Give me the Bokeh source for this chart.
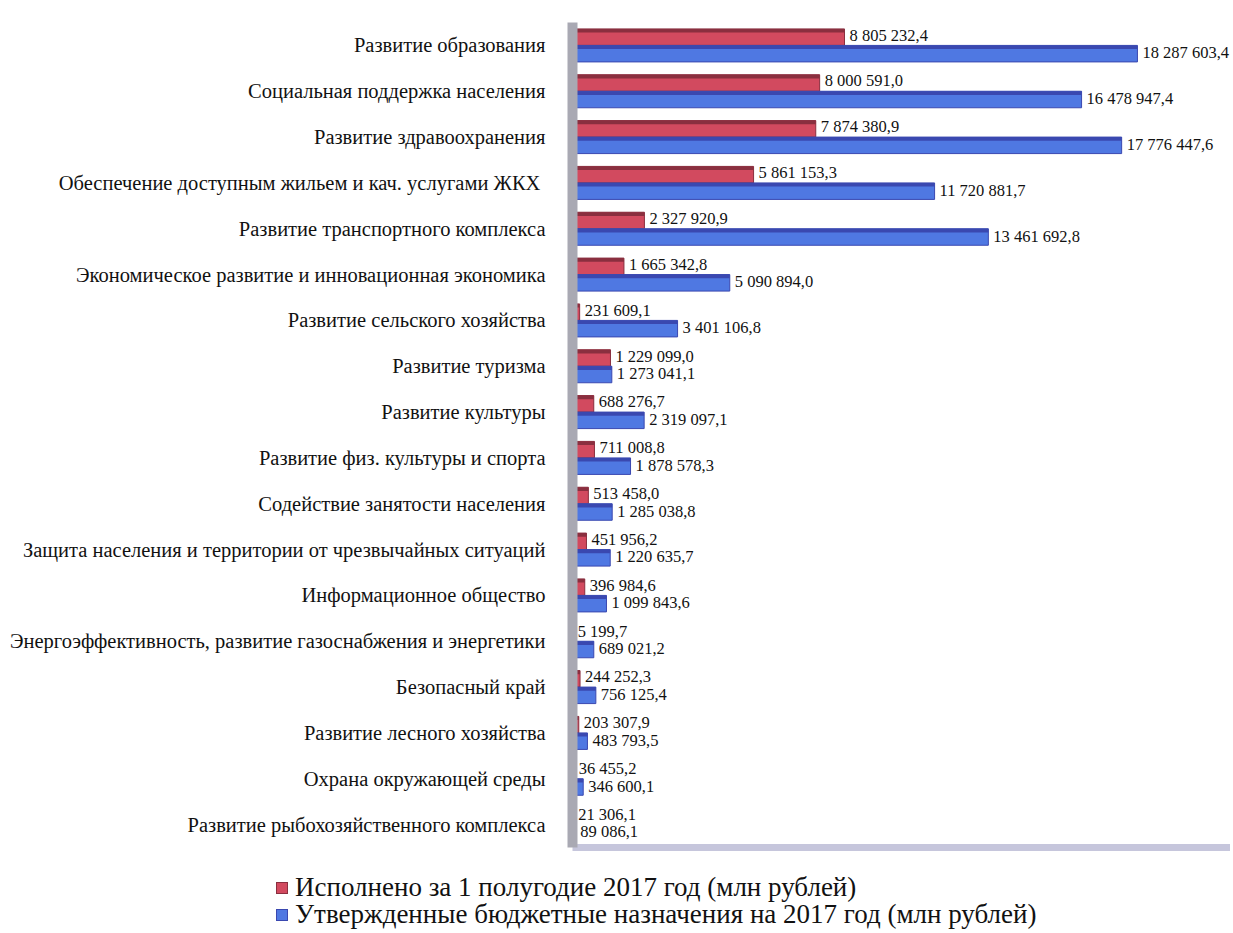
from bokeh.plotting import figure
from bokeh.layouts import column
from bokeh.models import ColumnDataSource, FactorRange, Range1d, Div
from bokeh.transform import dodge
from bokeh.core.properties import value
from bokeh.embed import file_html
from bokeh.resources import INLINE

categories = [
    "Развитие образования",
    "Социальная поддержка населения",
    "Развитие здравоохранения",
    "Обеспечение доступным жильем  и кач. услугами ЖКХ",
    "Развитие транспортного комплекса",
    "Экономическое развитие и инновационная экономика",
    "Развитие сельского хозяйства",
    "Развитие туризма",
    "Развитие культуры",
    "Развитие физ. культуры и спорта",
    "Содействие занятости населения",
    "Защита населения и территории от чрезвычайных ситуаций",
    "Информационное общество",
    "Энергоэффективность, развитие газоснабжения и энергетики",
    "Безопасный край",
    "Развитие лесного хозяйства",
    "Охрана окружающей среды",
    "Развитие рыбохозяйственного комплекса",
]
executed = [8805232.4, 8000591.0, 7874380.9, 5861153.3, 2327920.9, 1665342.8,
            231609.1, 1229099.0, 688276.7, 711008.8, 513458.0, 451956.2,
            396984.6, 5199.7, 244252.3, 203307.9, 36455.2, 21306.1]
approved = [18287603.4, 16478947.4, 17776447.6, 11720881.7, 13461692.8, 5090894.0,
            3401106.8, 1273041.1, 2319097.1, 1878578.3, 1285038.8, 1220635.7,
            1099843.6, 689021.2, 756125.4, 483793.5, 346600.1, 89086.1]
series_names = ["Исполнено за 1 полугодие 2017 год (млн рублей)",
                "Утвержденные бюджетные назначения на 2017 год (млн рублей)"]


def fmt(v):
    return f"{v:,.1f}".replace(",", " ").replace(".", ",")


src = ColumnDataSource(dict(
    cat=categories, ex=executed, ap=approved,
    ex_lbl=[fmt(v) for v in executed], ap_lbl=[fmt(v) for v in approved],
))

FONT = "Liberation Serif"
W = 1230
H_MAIN, H_LEG = 863, 67

p = figure(width=W, height=H_MAIN, output_backend="svg", toolbar_location=None,
           y_range=FactorRange(factors=categories[::-1], range_padding=0),
           x_range=Range1d(0, 21.3e6),
           min_border_left=572, min_border_right=0, min_border_top=22,
           min_border_bottom=16)
p.outline_line_color = None
p.xgrid.visible = False
p.ygrid.visible = False
p.background_fill_color = "white"

RED, RED_D = "#d24a5f", "#8a2f3f"
BLUE, BLUE_D = "#4f78e2", "#3a48b0"
BH = 0.36

p.hbar(y=dodge("cat", BH / 2, range=p.y_range), right="ex", left=0, height=BH,
       source=src, fill_color=RED, line_color=RED_D, line_width=1)
p.hbar(y=dodge("cat", BH - 0.04, range=p.y_range), right="ex", left=0, height=0.08,
       source=src, fill_color=RED_D, line_color=None)
p.hbar(y=dodge("cat", -BH / 2, range=p.y_range), right="ap", left=0, height=BH,
       source=src, fill_color=BLUE, line_color=BLUE_D, line_width=1)
p.hbar(y=dodge("cat", -0.04, range=p.y_range), right="ap", left=0, height=0.08,
       source=src, fill_color=BLUE_D, line_color=None)

p.text(x="ex", y=dodge("cat", BH / 2, range=p.y_range), text="ex_lbl", source=src,
       x_offset=5, y_offset=-2, text_baseline="middle", text_align="left",
       text_font=value(FONT), text_font_size="16.5px", text_color="#111111")
p.text(x="ap", y=dodge("cat", -BH / 2, range=p.y_range), text="ap_lbl", source=src,
       x_offset=5, y_offset=-1, text_baseline="middle", text_align="left",
       text_font=value(FONT), text_font_size="16.5px", text_color="#111111")

p.yaxis.major_label_text_font = FONT
p.yaxis.major_label_text_font_size = "20.5px"
p.yaxis.major_label_text_color = "#111111"
p.yaxis.major_label_standoff = 21
p.yaxis.major_tick_line_color = None
p.yaxis.minor_tick_line_color = None
p.yaxis.axis_line_color = "#a9a9b3"
p.yaxis.axis_line_width = 10

p.xaxis.ticker = []
p.xaxis.major_tick_line_color = None
p.xaxis.minor_tick_line_color = None
p.xaxis.axis_line_color = "#c6c6dc"
p.xaxis.axis_line_width = 7


def item(color, edge, label):
    return (f'<div style="display:flex;align-items:center;height:27px;">'
            f'<span style="display:inline-block;width:12px;height:12px;background:{color};'
            f'border:1px solid {edge};margin-right:7px;"></span>'
            f'<span style="font-family:\'Liberation Serif\',serif;">{label}</span></div>')


legend_html = ('<div style="margin:0;padding:11px 0 0 276px;font-family:\'Liberation Serif\',serif;'
               'font-size:27px;color:#111111;white-space:nowrap;line-height:27px;">'
               + item(RED, RED_D, series_names[0])
               + item(BLUE, BLUE_D, series_names[1])
               + '</div>')
lg = Div(text=legend_html, width=W, height=H_LEG, margin=0,
         styles={"font-family": "'Liberation Serif', serif", "font-size": "27px"})

open("out.html", "w").write(file_html(column(p, lg, spacing=0), INLINE))
